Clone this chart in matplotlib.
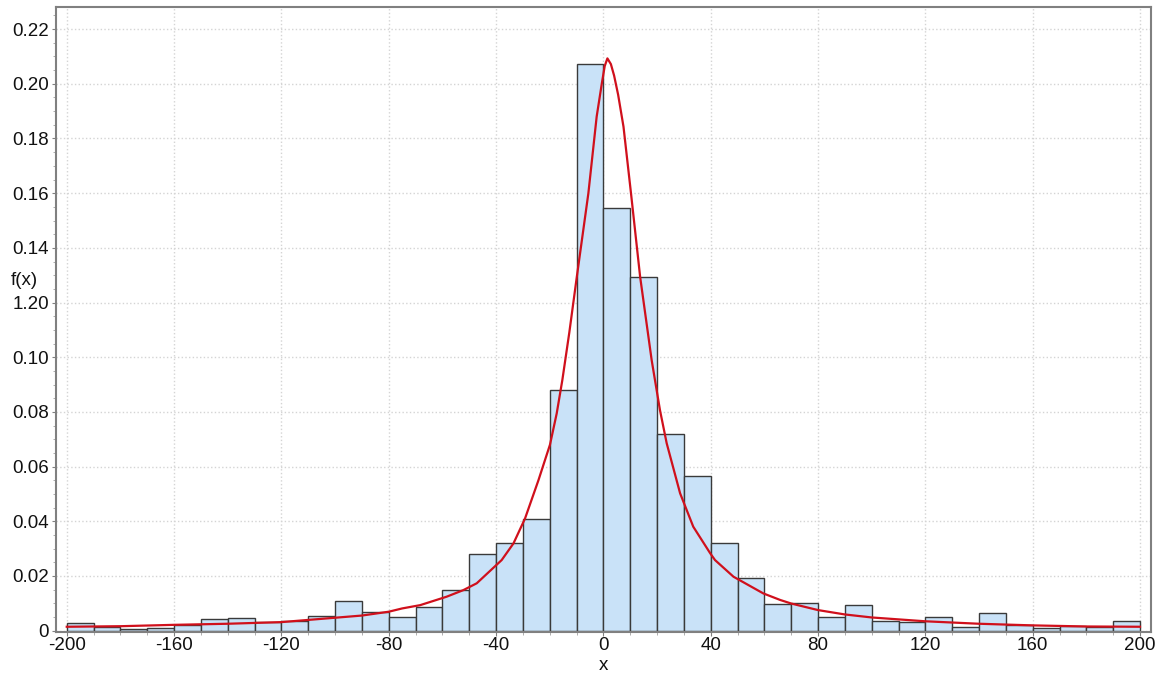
import numpy as np
import matplotlib
matplotlib.use('Agg')
import matplotlib.pyplot as plt
from matplotlib.ticker import MultipleLocator

plt.rcParams['font.family'] = ['Liberation Sans', 'DejaVu Sans']

# histogram: bins of width 10 from -200 to 200
bin_edges = list(range(-200, 201, 10))
bin_heights = [
    0.0026, 0.0014, 0.0007, 0.0009, 0.0022, 0.0042, 0.0045, 0.0031,
    0.0034, 0.0055, 0.0110, 0.0069, 0.0048, 0.0085, 0.0147, 0.0280,
    0.0319, 0.0409, 0.0879, 0.2072, 0.1547, 0.1292, 0.0718, 0.0565,
    0.0320, 0.0191, 0.0096, 0.0100, 0.0048, 0.0092, 0.0035, 0.0031,
    0.0048, 0.0012, 0.0063, 0.0020, 0.0008, 0.0016, 0.0013, 0.0035,
]

# fitted curve, points
curve_x = [-200, -180, -160, -140, -120, -100, -90, -80, -75, -68.3, -58.4,
           -52.2, -47.2, -37.9, -33.5, -29.2, -24.2, -19.9, -17.4, -15.3,
           -12.7, -9.9, -5.6, -2.5, -0.6, 0.5, 1.5, 2.8, 4.0, 5.5, 7.5, 10.3,
           13.7, 18.0, 21.1, 23.6, 28.6, 33.5, 39.8, 41.6, 48.5, 59.6, 65.9,
           70, 80, 90, 100, 120, 140, 160, 180, 200]
curve_y = [0.0014, 0.0016, 0.0021, 0.0025, 0.0031, 0.0047, 0.0055, 0.0069,
           0.0081, 0.0093, 0.0124, 0.0148, 0.0173, 0.0258, 0.0319, 0.0410,
           0.0550, 0.0680, 0.0794, 0.0916, 0.1090, 0.1294, 0.1599, 0.1880,
           0.2000, 0.2065, 0.2093, 0.2072, 0.2030, 0.1960, 0.1843, 0.1599,
           0.1294, 0.0989, 0.0806, 0.0685, 0.0502, 0.0380, 0.0283, 0.0258,
           0.0197, 0.0136, 0.0112, 0.0099, 0.0075, 0.0059, 0.0048, 0.0034,
           0.0025, 0.0019, 0.0015, 0.0014]

y_ticks = [0, 0.02, 0.04, 0.06, 0.08, 0.10, 0.12, 0.14, 0.16, 0.18, 0.20, 0.22]
y_tick_labels = ['0', '0.02', '0.04', '0.06', '0.08', '0.10', '1.20', '0.14',
                 '0.16', '0.18', '0.20', '0.22']
x_ticks = list(range(-200, 201, 40))

fig = plt.figure(figsize=(11.64, 6.73), dpi=100)
ax = fig.add_axes([0.0479, 0.0614, 0.9407, 0.9278])

lefts = np.array(bin_edges[:-1])
widths = np.diff(bin_edges)
ax.bar(lefts, bin_heights, width=widths, align='edge', color='#c9e2f8',
       edgecolor='#3a3a3a', linewidth=1.0, zorder=2)
ax.plot(curve_x, curve_y, color='#d0101c', linewidth=1.6, zorder=3,
        solid_joinstyle='round')

ax.set_xlim(-204.1, 204.0)
ax.set_ylim(-0.0004, 0.228)
ax.set_xticks(x_ticks)
ax.set_xticklabels([str(t) for t in x_ticks])
ax.set_yticks(y_ticks)
ax.set_yticklabels(y_tick_labels)
ax.xaxis.set_minor_locator(MultipleLocator(10))
ax.yaxis.set_minor_locator(MultipleLocator(0.005))
ax.tick_params(axis='both', which='major', labelsize=13.5, length=3,
               color='#808080', pad=2, labelcolor='#111111')
ax.tick_params(axis='x', which='major', pad=1)
ax.tick_params(axis='both', which='minor', length=2, color='#a0a0a0')

ax.grid(True, which='major', linestyle=':', color='#d4d4d4', linewidth=1.0,
        zorder=0)
ax.set_axisbelow(True)

for s in ax.spines.values():
    s.set_color('#808080')
    s.set_linewidth(1.5)

# axis titles sit where the reference has them
fig.text(603 / 1164, 1 - 665 / 673, 'x', fontsize=13.5, ha='center',
         va='center', color='#111111')
fig.text(24 / 1164, 1 - 280 / 673, 'f(x)', fontsize=13.5, ha='center',
         va='center', color='#111111')

fig.savefig('out.png', dpi=100)
